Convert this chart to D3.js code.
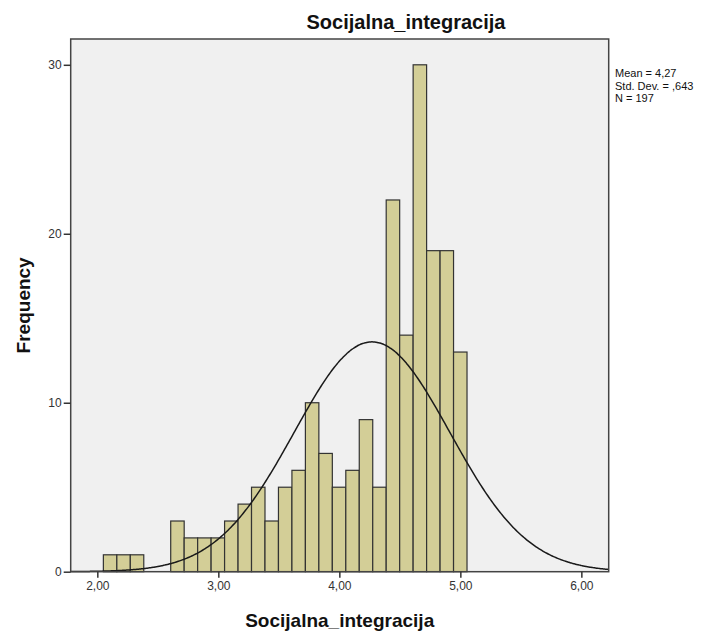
<!DOCTYPE html>
<html><head><meta charset="utf-8">
<script src="https://cdn.jsdelivr.net/npm/d3@7"></script>
<style>body{margin:0;background:#fff;} text{font-family:"Liberation Sans",Arial,sans-serif;}</style>
</head><body>
<svg id="chart" width="719" height="632"></svg>
<script>
// Data
const counts = [1,1,1,0,0,3,2,2,2,3,4,5,3,5,6,10,7,5,6,9,5,22,14,30,19,19,13];
const binStart = 2.05;
const binWidth = 0.1113;
const xTicks = [2,3,4,5,6];
const yTicks = [0,10,20,30];
const statsLabels = ["Mean = 4,27","Std. Dev. = ,643","N = 197"];
const mean = 4.27, sd = 0.643, n = 197;
const title = "Socijalna_integracija";
const xTitle = "Socijalna_integracija";
const yTitle = "Frequency";

const svg = d3.select("#chart");
const L = 70.7, R = 608.7, T = 39, B = 571.7;
const x = d3.scaleLinear().domain([1.78, 6.226]).range([L, R]);
const y = d3.scaleLinear().domain([0, 30]).range([B, 64.8]);

svg.append("rect").attr("x",L).attr("y",T).attr("width",R-L).attr("height",B-T)
  .attr("fill","#f0f0f0");

const bins = counts.map((c,i)=>({x0: binStart+i*binWidth, x1: binStart+(i+1)*binWidth, c}));
svg.append("g").selectAll("rect").data(bins.filter(d=>d.c>0)).join("rect")
  .attr("x",d=>x(d.x0)).attr("width",d=>x(d.x1)-x(d.x0))
  .attr("y",d=>y(d.c)).attr("height",d=>y(0)-y(d.c))
  .attr("fill","#d3ce97").attr("stroke","#333").attr("stroke-width",1.2);

// normal curve
const pts = d3.range(0,401).map(i=>{const v=1.78+(6.226-1.78)*i/400;
  return [v, n*binWidth*Math.exp(-0.5*((v-mean)/sd)**2)/(sd*Math.sqrt(2*Math.PI))];});
svg.append("path").datum(pts).attr("fill","none").attr("stroke","#1a1a1a").attr("stroke-width",1.5)
  .attr("d", d3.line().x(d=>x(d[0])).y(d=>y(d[1])).curve(d3.curveBasis));

// frame
svg.append("rect").attr("x",L).attr("y",T).attr("width",R-L).attr("height",B-T)
  .attr("fill","none").attr("stroke","#444").attr("stroke-width",1.5);

const fmt = v => d3.format(".2f")(v).replace(".",",");
const xa = svg.append("g").attr("transform",`translate(0,${B})`)
  .call(d3.axisBottom(x).tickValues(xTicks).tickFormat(fmt).tickSize(6).tickPadding(4));
const ya = svg.append("g").attr("transform",`translate(${L},0)`)
  .call(d3.axisLeft(y).tickValues(yTicks).tickFormat(d3.format("d")).tickSize(7).tickPadding(2));
[xa,ya].forEach(a=>{a.select(".domain").remove();
  a.selectAll("line").attr("stroke","#333").attr("stroke-width",1.5);
  a.selectAll("text").attr("fill","#333").style("font-size","12px").style("font-family","'Liberation Sans',Arial,sans-serif");});

svg.append("text").attr("x",406).attr("y",29).attr("text-anchor","middle")
  .style("font-weight","bold").style("font-size","20px").attr("fill","#111").text(title);
svg.append("text").attr("x",(L+R)/2).attr("y",627).attr("text-anchor","middle")
  .style("font-weight","bold").style("font-size","19px").attr("fill","#111").text(xTitle);
svg.append("text").attr("transform",`translate(30,${(T+B)/2}) rotate(-90)`).attr("text-anchor","middle")
  .style("font-weight","bold").style("font-size","19px").attr("fill","#111").text(yTitle);

svg.append("g").selectAll("text").data(statsLabels).join("text")
  .attr("x",615).attr("y",(d,i)=>77+i*12.5).style("font-size","11px").attr("fill","#111").text(d=>d);
</script>
</body></html>
